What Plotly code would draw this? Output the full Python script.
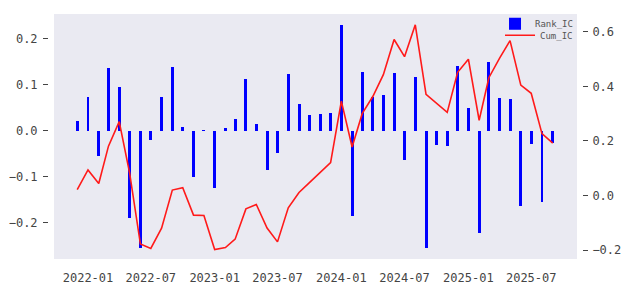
import pandas as pd
import plotly.graph_objects as go

months = [
    "2021-12",
    "2022-01", "2022-02", "2022-03", "2022-04", "2022-05", "2022-06",
    "2022-07", "2022-08", "2022-09", "2022-10", "2022-11", "2022-12",
    "2023-01", "2023-02", "2023-03", "2023-04", "2023-05", "2023-06",
    "2023-07", "2023-08", "2023-09", "2023-10", "2023-11", "2023-12",
    "2024-01", "2024-02", "2024-03", "2024-04", "2024-05", "2024-06",
    "2024-07", "2024-08", "2024-09", "2024-10", "2024-11", "2024-12",
    "2025-01", "2025-02", "2025-03", "2025-04", "2025-05", "2025-06",
    "2025-07", "2025-08", "2025-09",
]

rank_ic = [
    0.020,
    0.072, -0.055, 0.135, 0.094, -0.190, -0.255,
    -0.021, 0.072, 0.138, 0.007, -0.100, 0.001,
    -0.124, 0.005, 0.026, 0.112, 0.015, -0.086,
    -0.048, 0.122, 0.058, 0.034, 0.036, 0.038,
    0.229, -0.185, 0.128, 0.072, 0.077, 0.126,
    -0.064, 0.117, -0.255, -0.032, -0.034, 0.140,
    0.049, -0.223, 0.150, 0.070, 0.068, -0.163,
    -0.028, -0.155, -0.027,
]

cum_ic = [
    0.022,
    0.094, 0.044, 0.181, 0.271, 0.082, -0.178,
    -0.194, -0.120, 0.020, 0.029, -0.072, -0.073,
    -0.198, -0.191, -0.160, -0.049, -0.033, -0.119,
    -0.170, -0.045, 0.011, 0.047, 0.086, 0.121,
    0.346, 0.178, 0.300, 0.364, 0.443, 0.572,
    0.509, 0.626, 0.371, 0.338, 0.305, 0.452,
    0.500, 0.276, 0.432, 0.504, 0.568, 0.405,
    0.375, 0.227, 0.192,
]

left_ticks = [-0.2, -0.1, 0.0, 0.1, 0.2]
right_ticks = [-0.2, 0.0, 0.2, 0.4, 0.6]
x_tick_dates = ["2022-01-01", "2022-07-01", "2023-01-01", "2023-07-01",
                "2024-01-01", "2024-07-01", "2025-01-01", "2025-07-01"]
x_tick_text = ["2022-01", "2022-07", "2023-01", "2023-07",
               "2024-01", "2024-07", "2025-01", "2025-07"]

dates = pd.to_datetime([m + "-01" for m in months])

TICK_FONT = dict(family="DejaVu Sans Mono", size=12, color="#444444")
LEG_FONT = dict(family="DejaVu Sans Mono", size=9, color="#555555")
BAR_WIDTH_MS = 8.5 * 24 * 3600 * 1000

fig = go.Figure()
fig.add_trace(go.Bar(
    x=dates, y=rank_ic, name="Rank_IC",
    marker=dict(color="#0000FF", line=dict(width=0)),
    width=BAR_WIDTH_MS, yaxis="y", legend="legend",
))
fig.add_trace(go.Scatter(
    x=dates, y=cum_ic, name="Cum_IC", mode="lines",
    line=dict(color="#FF1A1A", width=1.6), yaxis="y2", legend="legend2",
))

ml, mr, mt, mb = 48, 46, 9, 33
pw = 630 - ml - mr
ph = 294 - mt - mb
leg_common = dict(
    xanchor="right", yanchor="top",
    bgcolor="rgba(0,0,0,0)", font=LEG_FONT, itemwidth=30,
)
fig.update_layout(
    width=630, height=294,
    margin=dict(l=ml, r=mr, t=mt, b=mb, pad=0),
    paper_bgcolor="white",
    plot_bgcolor="#EAEAF2",
    showlegend=True,
    legend=dict(x=(580 - ml) / pw, y=1 + 5 / ph, **leg_common),
    legend2=dict(x=(580 - ml) / pw, y=1 - 7 / ph, **leg_common),
    bargap=0,
    xaxis=dict(
        type="date",
        domain=[(54 - ml) / pw, (579 - ml) / pw],
        range=["2021-09-25", "2025-11-10"],
        tickmode="array", tickvals=x_tick_dates, ticktext=x_tick_text,
        showgrid=False, zeroline=False, showline=False,
        ticks="", tickfont=TICK_FONT, ticklabelstandoff=10,
        anchor="y",
    ),
    yaxis=dict(
        range=[-0.2785, 0.2532],
        tickmode="array", tickvals=left_ticks,
        tickformat=".1f",
        showgrid=False, zeroline=False, showline=False,
        ticks="outside", ticklen=5, tickwidth=1.3, tickcolor="#444444",
        tickfont=TICK_FONT, ticklabelstandoff=3,
        anchor="free", position=0,
    ),
    yaxis2=dict(
        range=[-0.2328, 0.6656],
        tickmode="array", tickvals=right_ticks,
        tickformat=".1f",
        showgrid=False, zeroline=False, showline=False,
        ticks="outside", ticklen=5, tickwidth=1.3, tickcolor="#444444",
        tickfont=TICK_FONT, ticklabelstandoff=2,
        overlaying="y", side="right", anchor="free", position=1,
    ),
)

fig.write_html("out.html")
